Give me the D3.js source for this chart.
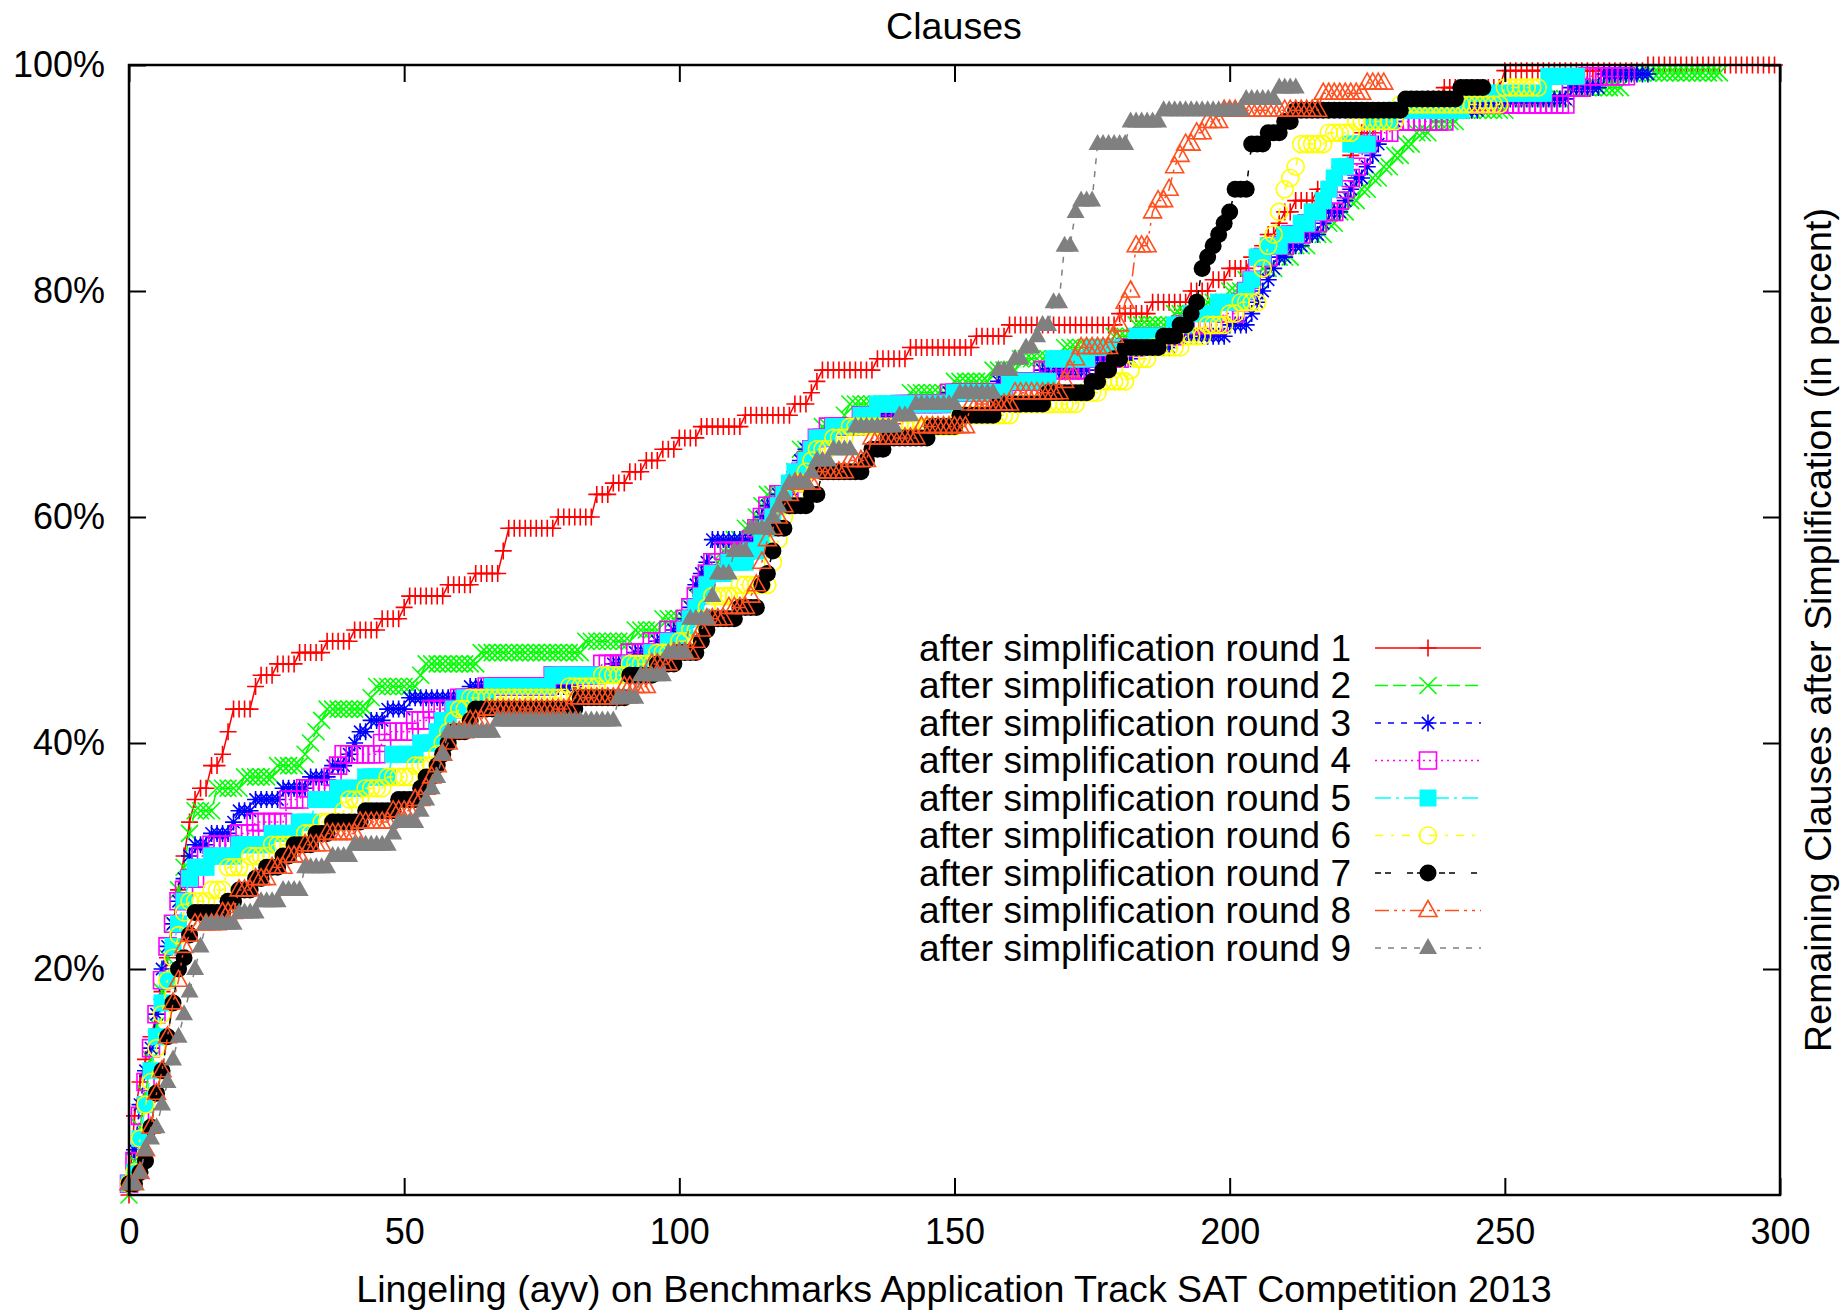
<!DOCTYPE html>
<html>
<head>
<meta charset="utf-8">
<script src="https://cdn.jsdelivr.net/npm/d3@7"></script>
<style>
  body { margin: 0; background: #fff; }
  svg { display: block; }
  text { font-family: "Liberation Sans", Arial, sans-serif; font-size: 36px; fill: #000; }
  .legend text { font-size: 37px; }
  text.title { font-size: 37.6px; }
</style>
</head>
<body>
<svg id="chart" width="1842" height="1311"></svg>
<script>
// ---- Data: sorted remaining-clause percentages, run-length encoded as [percent, count] ----
const round1 = [[0,1],[7,1],[10,1],[12,1],[14,1],[16,1],[18,1],[21,1],[24,1],[27,1],[30,1],[33,1],[35,1],
  [36,2],[38,2],[39,1],[41,1],[43,4],[45,1],[46,3],[47,4],[48,5],[49,5],[50,5],[51,4],[52,1],[53,7],[54,5],
  [55,5],[57,1],[59,9],[60,7],[62,3],[63,3],[64,3],[65,3],[66,3],[67,4],[68,8],[69,9],[70,3],[71,1],[72,1],
  [73,10],[74,6],[75,12],[76,6],[77,20],[78,6],[79,7],[80,4],[81,3],[82,4],[83,2],[84,1],[85,2],[86,1],[87,2],
  [88,4],[89,3],[90,1],[91,2],[92,1],[93,1],[94,3],[95,4],[96,5],[97,3],[98,11],[99.5,26],[100,24]];
const round2 = [[0,1],[3,1],[6,1],[9,1],[12,1],[15,1],[18,1],[21,1],[24,1],[27,1],[29,1],[32,1],
  [34,4],[36,5],[37,6],[38,5],[39,1],[40,1],[41,1],[42,1],[43,8],[44,1],[45,8],[46,1],[47,10],[48,19],[49,9],
  [50,5],[51,5],[52,1],[53,1],[54,1],[55,2],[56,1],[57,2],[58,2],[59,2],[60,1],[61,1],[62,5],[64,1],[66,3],
  [67,1],[68,4],[69,1],[70,11],[71,8],[72,7],[73,5],[74,8],[75,9],[76,4],[77,7],[78,6],[79,4],[80,3],[81,3],
  [82,3],[83,3],[84,3],[85,3],[86,2],[87,2],[88,2],[89,2],[90,2],[91,2],[92,2],[93,2],[94,3],[95,5],[96,9],
  [97,11],[98,10],[99.3,18]];
const round3 = [[1,1],[4,1],[8,1],[11,1],[13,1],[16,1],[20,1],[22,1],[24,1],[26,1],[28,1],
  [30,1],[31,3],[32,4],[33,1],[34,3],[35,5],[36,5],[37,4],[38,3],[39,1],[40,1],[41,2],[42,3],[43,4],[44,11],
  [45,20],[46,6],[47,4],[48,4],[49,3],[50,2],[51,1],[52,1],[54,1],[55,1],[56,1],[58,8],[59,1],[60,1],[61,2],
  [62,3],[64,1],[65,1],[66,2],[67,3],[68,5],[69,7],[70,9],[71,9],[72,8],[73,9],[74,8],[75,7],[76,10],[77,4],
  [78,1],[79,1],[80,1],[81,1],[82,1],[83,2],[84,3],[85,3],[86,1],[87,3],[88,1],[89,1],[90,2],[91,1],[92,1],
  [93,1],[95,3],[96,15],[97,16],[98,6],[99.2,9]];
const round4 = [[1,1],[3,1],[7,1],[10,1],[13,1],[16,1],[19,1],[22,1],[24,1],[26,1],[27,1],
  [28,2],[30,2],[31,5],[32,3],[33,6],[35,3],[36,5],[37,1],[38,1],[39,7],[40,1],[41,5],[42,3],[43,5],[44,5],
  [45,12],[46,9],[47,5],[48,4],[49,3],[50,3],[51,1],[52,1],[53,1],[54,1],[55,1],[56,2],[57,5],[58,1],[59,1],
  [60,1],[61,2],[62,3],[63,1],[64,1],[65,1],[66,1],[67,2],[68,6],[69,7],[70,9],[71,11],[72,6],[73,9],[74,6],
  [75,3],[76,7],[77,8],[78,3],[79,1],[80,1],[81,1],[82,1],[83,2],[84,3],[85,3],[86,3],[87,3],[88,1],[89,1],
  [90,1],[91,1],[92,1],[93,1],[94,4],[95,10],[96.5,22],[98,3],[99,8]];
const round5 = [[1,1],[2,1],[5,1],[8,1],[11,1],[14,1],[17,1],[19,1],[22,1],[24,1],[26,1],[28,1],
  [29,3],[30,5],[31,6],[32,5],[33,3],[35,4],[36,5],[37,5],[39,5],[40,3],[41,1],[42,2],[43,2],[44,5],[45,11],
  [46,14],[47,4],[48,3],[49,3],[50,1],[51,1],[52,1],[53,1],[54,1],[55,3],[56,4],[57,2],[58,1],[59,1],[60,1],
  [61,1],[62,1],[63,1],[64,2],[65,1],[66,1],[67,3],[68,5],[69,3],[70,14],[71,10],[72,8],[74,7],[75,8],[76,7],
  [77,3],[78,5],[79,5],[80,1],[81,1],[83,2],[84,3],[85,3],[86,2],[87,2],[88,1],[89,1],[90,1],[91,2],[93,4],
  [95,4],[96,13],[97.5,15],[99,6]];
const round6 = [[1,1],[2,1],[5,1],[8,1],[10,1],[13,1],[16,1],[19,1],[21,1],[23,1],[25,1],
  [26,4],[27,3],[29,4],[30,4],[31,6],[32,3],[33,4],[34,1],[35,3],[36,4],[37,5],[38,4],[39,1],[40,1],[41,1],
  [42,1],[43,2],[44,18],[45,6],[46,5],[47,5],[48,4],[49,2],[50,2],[51,1],[52,1],[53,5],[54,6],[56,1],[58,1],
  [60,1],[61,1],[62,1],[63,1],[64,1],[65,1],[66,3],[67,3],[68,20],[69,10],[70,12],[71,4],[72,5],[73,1],[74,3],
  [75,6],[76,4],[77,4],[78,2],[79,4],[82,1],[84,1],[85,1],[87,1],[89,1],[90,1],[91,1],[93,5],[94,5],[95,8],
  [96.5,19],[98,7]];
const round7 = [[1,2],[2,1],[3,1],[6,1],[9,1],[11,1],[14,1],[17,1],[20,1],[21,1],[23,1],
  [25,6],[26,2],[27,3],[28,2],[29,3],[30,2],[31,4],[32,3],[33,6],[34,6],[35,4],[36,1],[37,2],[38,1],[39,1],
  [40,1],[41,3],[42,1],[43,19],[44,9],[46,5],[47,4],[48,4],[49,1],[50,1],[51,5],[52,4],[54,1],[55,1],[57,1],
  [59,2],[61,4],[62,2],[64,8],[65,1],[66,3],[67,8],[68,5],[69,7],[70,9],[71,8],[72,2],[73,2],[74,2],[75,7],
  [76,3],[77,2],[78,1],[79,1],[82,1],[83,1],[84,1],[85,1],[86,1],[87,1],[89,3],[93,3],[94,3],[95,2],[96,20],
  [97,10],[98,5]];
const round8 = [[1,2],[2,1],[4,1],[6,1],[9,1],[11,1],[14,1],[17,1],[19,1],[22,1],[23,1],
  [24,5],[25,3],[27,3],[28,3],[29,3],[30,3],[31,4],[32,6],[33,6],[34,4],[35,2],[36,1],[37,1],[38,1],[39,1],
  [40,1],[41,3],[42,3],[43,16],[44,9],[45,5],[47,4],[48,4],[49,1],[50,1],[51,4],[52,4],[53,1],[54,1],[56,1],
  [58,1],[59,1],[60,1],[61,1],[62,1],[63,4],[64,6],[65,4],[67,9],[68,9],[70,8],[71,9],[72,1],[73,1],[74,1],
  [75,6],[76,1],[77,1],[79,1],[80,1],[84,3],[87,1],[88,2],[89,1],[91,1],[92,1],[93,2],[94,2],[95,3],[96,18],
  [97.5,8],[98.4,4]];
const round9 = [[1,2],[2,1],[4,1],[5,1],[6,1],[8,1],[10,1],[12,1],[14,1],[16,1],[18,1],[20,1],[22,1],
  [24,6],[25,4],[26,4],[27,4],[29,5],[30,4],[31,7],[32,1],[33,4],[34,1],[35,1],[36,1],[37,1],[39,1],[41,9],
  [42,22],[44,4],[46,5],[48,4],[51,4],[53,1],[55,3],[57,3],[59,4],[60,1],[61,1],[62,1],[63,4],[64,1],[65,3],
  [66,4],[68,8],[69,3],[70,8],[71,7],[73,3],[74,2],[75,2],[76,1],[77,2],[79,2],[84,2],[87,1],[88,3],[93,6],
  [95,6],[96,15],[97,6],[98,4]];

const rounds = [round1, round2, round3, round4, round5, round6, round7, round8, round9];
const labels = rounds.map((_, i) => `after simplification round ${i + 1}`);
const xTicks = [0, 50, 100, 150, 200, 250, 300];
const yTicks = [20, 40, 60, 80, 100];

// ---- Look of each series (gnuplot style) ----
const styles = [
  {color: "#ff0000", dash: null,            mark: "plus"},
  {color: "#00ff00", dash: "13,5",          mark: "times"},
  {color: "#0000ff", dash: "6,7",           mark: "star"},
  {color: "#ff00ff", dash: "2,4",           mark: "square"},
  {color: "#00ffff", dash: "16,5,3,5",      mark: "squareFill"},
  {color: "#ffff00", dash: "8,8,3,8",       mark: "circle"},
  {color: "#000000", dash: "6,4,6,16",      mark: "circleFill"},
  {color: "#ff5020", dash: "14,5,3,5,3,5",  mark: "triangle"},
  {color: "#808080", dash: "6,7",           mark: "triangleFill"}
];

const H = 8.5;
const D = H * 0.72;
const shapes = {
  plus: `M${-H},0H${H}M0,${-H}V${H}`,
  times: `M${-H},${-H}L${H},${H}M${-H},${H}L${H},${-H}`,
  star: `M${-H},0H${H}M0,${-H}V${H}M${-D},${-D}L${D},${D}M${-D},${D}L${D},${-D}`,
  square: `M${-H},${-H}H${H}V${H}H${-H}Z`,
  circle: `M${H},0A${H},${H} 0 1,1 ${-H},0A${H},${H} 0 1,1 ${H},0Z`,
  triangle: `M0,-10L9,6H-9Z`
};
const markPath = m => shapes[m.replace("Fill", "")];
const filled = m => m.endsWith("Fill");

// ---- Scales ----
const svg = d3.select("#chart");
const x = d3.scaleLinear().domain([0, 300]).range([129, 1780]);
const y = d3.scaleLinear().domain([0, 100]).range([1195, 65]);

// expand [percent, count] runs into one point per benchmark
function expand(runs) {
  let i = 0;
  return runs.flatMap(([p, n]) => d3.range(n).map(() => ({x: i++, y: p})));
}

const line = d3.line().x(d => x(d.x)).y(d => y(d.y));

// ---- Series ----
rounds.forEach((runs, k) => {
  const st = styles[k];
  const pts = expand(runs);
  const g = svg.append("g").attr("class", "series");
  g.append("path")
    .datum(pts)
    .attr("d", line)
    .attr("fill", "none")
    .attr("stroke", st.color)
    .attr("stroke-width", 1.5)
    .attr("stroke-dasharray", st.dash);
  g.selectAll("path.pt")
    .data(pts)
    .join("path")
    .attr("class", "pt")
    .attr("transform", d => `translate(${x(d.x)},${y(d.y)})`)
    .attr("d", markPath(st.mark))
    .attr("fill", filled(st.mark) ? st.color : "none")
    .attr("stroke", filled(st.mark) ? "none" : st.color)
    .attr("stroke-width", 1.6);
});

// ---- Legend ----
const legend = svg.append("g").attr("class", "legend");
labels.forEach((lab, k) => {
  const st = styles[k];
  const ly = 648 + k * 37.5;
  legend.append("text")
    .attr("x", 1351).attr("y", ly).attr("dy", "0.35em")
    .attr("text-anchor", "end")
    .text(lab);
  legend.append("line")
    .attr("x1", 1375).attr("x2", 1481).attr("y1", ly).attr("y2", ly)
    .attr("stroke", st.color).attr("stroke-width", 1.5)
    .attr("stroke-dasharray", st.dash);
  legend.append("path")
    .attr("transform", `translate(1428,${ly})`)
    .attr("d", markPath(st.mark))
    .attr("fill", filled(st.mark) ? st.color : "none")
    .attr("stroke", filled(st.mark) ? "none" : st.color)
    .attr("stroke-width", 1.6);
});

// ---- Axes (ticks inward, mirrored) ----
const tick = 17;
const styleAxis = g => {
  g.select(".domain").remove();
  g.selectAll(".tick line").attr("stroke", "#000").attr("stroke-width", 2);
};
svg.append("g").attr("transform", `translate(0,${y(0)})`)
  .call(d3.axisBottom(x).tickValues(xTicks).tickSize(-tick).tickPadding(23))
  .call(styleAxis);
svg.append("g").attr("transform", `translate(0,${y(100)})`)
  .call(d3.axisTop(x).tickValues(xTicks).tickSize(-tick).tickFormat(() => ""))
  .call(styleAxis);
svg.append("g").attr("transform", `translate(${x(0)},0)`)
  .call(d3.axisLeft(y).tickValues(yTicks).tickSize(-tick).tickPadding(24).tickFormat(d => d + "%"))
  .call(styleAxis);
svg.append("g").attr("transform", `translate(${x(300)},0)`)
  .call(d3.axisRight(y).tickValues(yTicks).tickSize(-tick).tickFormat(() => ""))
  .call(styleAxis);

// border drawn in front, like gnuplot
svg.append("rect")
  .attr("x", x(0)).attr("y", y(100))
  .attr("width", x(300) - x(0)).attr("height", y(0) - y(100))
  .attr("fill", "none").attr("stroke", "#000").attr("stroke-width", 2.5);

// ---- Titles ----
svg.append("text").attr("class", "title")
  .attr("x", 954).attr("y", 26).attr("dy", "0.35em")
  .attr("text-anchor", "middle").text("Clauses");
svg.append("text").attr("class", "title")
  .attr("x", 954).attr("y", 1289).attr("dy", "0.35em")
  .attr("text-anchor", "middle")
  .text("Lingeling (ayv) on Benchmarks Application Track SAT Competition 2013");
svg.append("text").attr("class", "title")
  .attr("transform", "translate(1818,630) rotate(-90)")
  .attr("dy", "0.35em")
  .attr("text-anchor", "middle")
  .text("Remaining Clauses after Simplification (in percent)");
</script>
</body>
</html>
